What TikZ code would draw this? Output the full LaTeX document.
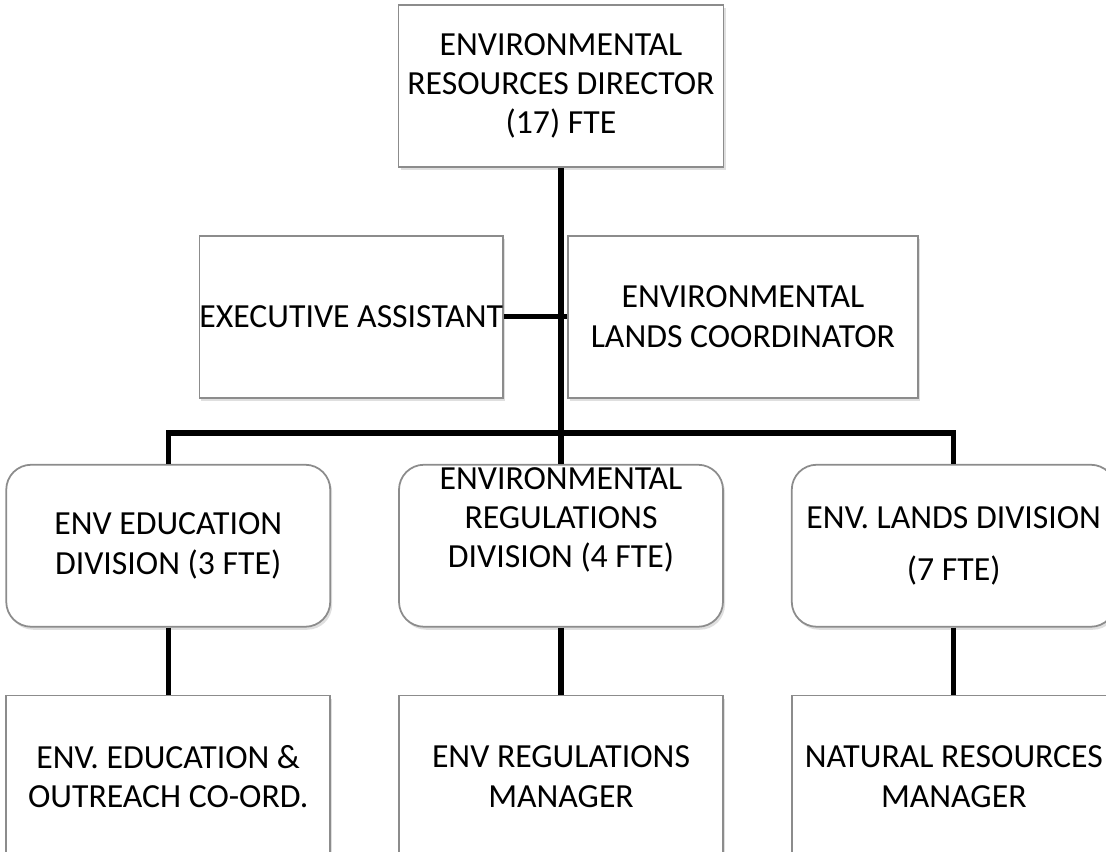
\documentclass[tikz,border=0pt]{standalone}
\usepackage{fontspec}
\setmainfont{Carlito}
\usetikzlibrary{positioning, shadows, calc}
\definecolor{boxline}{HTML}{8C8C8C}
\definecolor{darktext}{HTML}{000000}

\begin{document}
\begin{tikzpicture}[
    node distance=0.67cm,
    box/.style={rectangle, draw=boxline, line width=0.5pt, fill=white,
                minimum width=#1, minimum height=1.62cm, align=center,
                inner sep=0pt, text=darktext,
                font=\fontsize{9.6}{11.2}\selectfont,
                drop shadow={opacity=0.25, shadow xshift=0.02cm, shadow yshift=-0.03cm}},
    box/.default=3.24cm,
    divbox/.style={box, rounded corners=0.25cm},
    conn/.style={line width=1.5pt, color=darktext}
]
\clip (0,0) rectangle (11.06,8.52);

\node[box=3.25cm] (dir) at (5.61,7.66) {ENVIRONMENTAL\\RESOURCES DIRECTOR\\(17) FTE};
\node[box=3.01cm, below left=0.67cm and 0.57cm of dir.south] (ea) {EXECUTIVE ASSISTANT};
\node[box=3.50cm, below right=0.67cm and 0.06cm of dir.south] (elc) {ENVIRONMENTAL\\LANDS COORDINATOR};

% divisions
\node[divbox, below=2.96cm of dir] (regs)
    {\raisebox{0.25cm}[\height][\depth]{\begin{tabular}{@{}c@{}}ENVIRONMENTAL\\REGULATIONS\\DIVISION (4 FTE)\end{tabular}}};
\node[divbox, left=of regs] (edu) {ENV EDUCATION\\DIVISION (3 FTE)};
\node[divbox, right=of regs] (lands) {ENV. LANDS DIVISION\\[0.12cm](7 FTE)};

\node[box, below=of edu] (edum) {ENV. EDUCATION \&\\OUTREACH CO-ORD.};
\node[box, below=of regs] (regsm) {ENV REGULATIONS\\MANAGER};
\node[box, below=of lands] (landsm) {NATURAL RESOURCES\\MANAGER};

\coordinate (bus) at ($(regs.north)+(0,0.31)$);

\draw[conn] (dir) -- (regs);
\draw[conn] (ea) -- (elc);
\draw[conn] (edu.north) |- (bus) -| (lands.north);
\draw[conn] (edu) -- (edum);
\draw[conn] (regs) -- (regsm);
\draw[conn] (lands) -- (landsm);

\end{tikzpicture}
\end{document}
